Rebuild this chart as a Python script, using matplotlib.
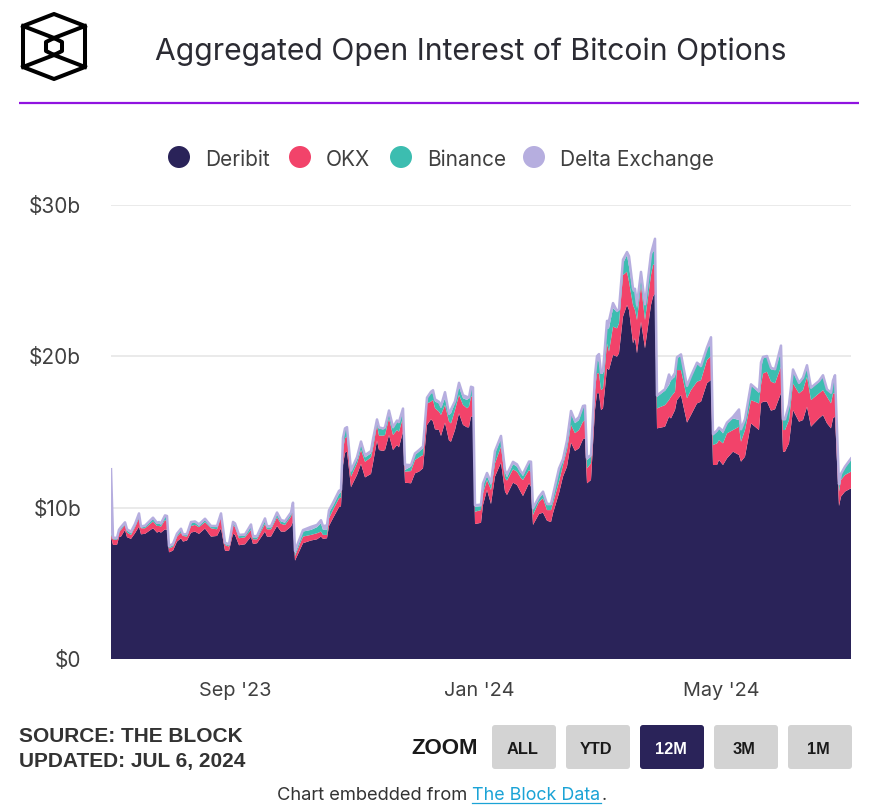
import pandas as pd
import matplotlib.pyplot as plt
from matplotlib.patches import Circle, FancyBboxPatch, Polygon

plt.rcParams['font.family'] = ['Inter', 'DejaVu Sans']

# days since 2023-07-01
days = [0, 1, 3, 4, 5, 7, 8, 10, 12, 14, 15, 17, 21, 23, 24, 25, 27, 28, 29, 31,
        33, 35, 36, 38, 40, 42, 44, 47, 50, 53, 55, 57, 59, 61, 62, 64, 67, 70, 71, 73,
        77, 78, 80, 83, 85, 87, 90, 91, 92, 96, 100, 103, 105, 106, 108, 109, 111, 114, 115, 116,
        117, 118, 120, 123, 125, 127, 130, 131, 133, 134, 136, 137, 139, 141, 143, 144, 146, 147, 150, 152,
        154, 156, 158, 160, 161, 162, 164, 165, 167, 169, 170, 172, 174, 176, 178, 179, 180, 181, 182, 185,
        186, 188, 190, 192, 195, 197, 198, 201, 203, 205, 206, 209, 210, 211, 214, 216, 218, 220, 221, 224,
        226, 228, 230, 232, 234, 236, 237, 238, 240, 242, 243, 244, 245, 246, 248, 249, 251, 253, 254, 256,
        258, 259, 261, 262, 263, 265, 267, 270, 271, 272, 273, 277, 279, 280, 282, 283, 285, 288, 290, 293,
        295, 298, 300, 301, 303, 304, 306, 308, 311, 314, 315, 317, 320, 324, 325, 326, 328, 330, 332, 335,
        336, 337, 339, 341, 344, 346, 348, 350, 354, 356, 358, 360, 361, 362, 364, 365, 367, 370]

deribit = [8.09, 7.54, 7.54, 8.05, 8.09, 8.53, 8.05, 7.94, 8.31, 8.75, 8.24, 8.27, 8.64, 8.35, 8.42, 8.35, 8.57, 8.53, 7.05, 7.16,
           7.76, 7.98, 7.76, 7.83, 8.35, 8.42, 8.27, 8.62, 8.09, 8.13, 8.64, 7.16, 7.14, 8.27, 8.20, 7.52, 7.58, 8.09, 7.60, 7.65,
           8.42, 8.09, 8.09, 8.79, 8.42, 8.42, 8.75, 9.08, 6.50, 7.65, 7.83, 7.91, 8.09, 7.94, 7.98, 8.79, 9.30, 10.03, 10.10, 12.82,
           13.64, 13.70, 11.35, 12.16, 12.89, 12.00, 12.23, 12.93, 14.43, 13.81, 13.75, 13.81, 14.80, 13.81, 14.14, 13.99, 15.02, 11.65, 11.61, 12.27,
           12.38, 12.60, 15.46, 15.84, 15.69, 15.18, 15.13, 14.74, 15.62, 14.43, 14.36, 15.13, 16.24, 15.47, 15.31, 15.31, 16.02, 16.02, 8.92, 9.00,
           10.18, 11.17, 10.24, 12.05, 12.98, 11.06, 10.84, 11.65, 11.50, 11.00, 10.77, 11.61, 11.39, 8.86, 9.58, 9.67, 9.14, 9.05, 9.63, 10.95,
           12.05, 12.71, 14.30, 13.75, 13.92, 14.52, 14.58, 11.61, 11.83, 16.45, 17.56, 17.56, 16.45, 16.56, 19.20, 19.10, 20.09, 19.98, 20.20, 22.62,
           23.39, 23.06, 20.86, 21.19, 20.20, 22.29, 20.53, 23.39, 23.94, 24.16, 15.24, 15.35, 16.01, 15.90, 16.45, 17.11, 17.44, 15.62, 16.12, 16.89,
           17.00, 18.22, 18.44, 12.82, 12.82, 13.15, 12.82, 13.26, 13.70, 13.48, 13.04, 13.37, 15.57, 15.13, 16.89, 17.00, 17.00, 16.41, 16.50, 17.56,
           13.70, 13.70, 14.25, 16.45, 15.68, 15.79, 16.67, 15.35, 15.90, 16.12, 15.57, 15.24, 15.90, 16.01, 10.11, 10.73, 11.06, 11.28]

okx = [.11, .37, .33, .31, .44, .33, .31, .26, .40, .55, .40, .37, .44, .44, .37, .40, .62, .55, .26, .26,
       .33, .37, .37, .26, .44, .44, .44, .42, .55, .44, .77, .37, .29, .59, .51, .46, .46, .44, .31, .26,
       .51, .48, .48, .57, .51, .44, .66, .77, .31, .44, .37, .40, .33, .26, .22, .51, .55, .59, .57, .99,
       .95, .99, .70, .77, .93, 1.03, 1.10, 1.00, 1.03, .95, 1.01, .99, 1.10, .99, .99, 1.03, .95, .73, .81, .88,
       .95, .88, 1.43, 1.17, 1.43, 1.39, 1.21, 1.39, 1.17, 1.26, 1.21, 1.32, 1.21, 1.32, 1.26, 1.37, 1.32, 1.32, .81, .84,
       .77, .66, .93, .88, 1.06, .88, .95, .88, .88, .95, 1.06, .88, .95, .66, .81, .95, .70, .79, .66, .77,
       .77, 1.10, 1.17, 1.17, 1.21, 1.17, 1.21, .99, 1.10, 1.32, 1.32, 1.32, 1.32, 1.32, 1.65, 1.21, 1.87, 1.87, 1.98, 2.75,
       2.20, 1.87, 2.53, 1.87, 2.20, 2.42, 1.87, 1.98, 2.09, 1.98, 1.32, 1.43, 1.10, 1.43, 1.21, 1.98, 1.65, 1.61, 1.65, 1.43,
       1.43, 1.54, 1.59, 1.32, 1.43, 1.32, 1.43, 1.65, 1.43, 1.87, 1.32, 1.76, 1.54, 1.76, 1.21, 1.87, 1.98, 1.92, 1.72, 1.76,
       1.43, 1.43, 1.54, 1.76, 1.87, 1.98, 1.98, 1.76, 1.65, 1.65, 1.76, 1.65, 1.65, 1.54, .95, 1.10, 1.10, 1.10]

binance = [.11, .05, .05, .10, .11, .07, .13, .11, .13, .22, .05, .11, .18, .13, .18, .13, .22, .22, .07, .11,
           .11, .18, .07, .13, .18, .15, .09, .15, .11, .18, .11, .07, .11, .11, .15, .15, .11, .26, .13, .13,
           .26, .13, .13, .22, .15, .15, .22, .33, .13, .33, .33, .40, .55, .33, .33, .37, .26, .29, .37, .55,
           .55, .55, .33, .26, .40, .29, .26, .44, .29, .48, .42, .44, .44, .44, .55, .55, .48, .11, .29, .33,
           .37, .44, .33, .55, .44, .44, .55, .44, .44, .44, .66, .48, .55, .44, .55, .55, .55, .55, .33, .26,
           .55, .26, .33, .66, .55, .44, .22, .35, .33, .33, .26, .48, .60, .37, .22, .29, .33, .33, .44, .77,
           .29, .55, .77, .66, .66, .95, .88, .55, .44, .66, .88, .77, 1.06, .99, .99, 1.54, 1.21, 1.10, .88, .77,
           1.10, .99, .88, 1.32, .77, .77, .99, 1.32, .88, .88, .77, .95, .99, 1.10, .99, .77, .99, .77, .88, 1.21,
           .84, .77, .73, .66, .77, .77, .66, .66, .77, .44, .77, .66, .99, .70, .99, .99, .99, .81, .88, .99,
           .66, .66, .88, .77, .62, .77, .66, .77, .77, .88, .44, .66, .77, 1.10, .44, .33, .50, .77]

delta = [4.23, .06, .08, .08, .08, .10, .08, .10, .08, .10, .07, .06, .08, .08, .08, .08, .08, .15, .08, .08,
         .08, .08, .03, .04, .08, .08, .10, .08, .04, .04, .10, .08, .04, .09, .10, .07, .08, .10, .08, .08,
         .10, .08, .08, .10, .10, .10, .05, .15, .20, .10, .20, .15, .20, .25, .30, .15, .20, .20, .15, .25,
         .10, .08, .08, .15, .15, .15, .15, .15, .08, .07, .05, .07, .08, .08, .08, .10, .10, .35, .10, .10,
         .10, .12, .05, .10, .20, .15, .10, .15, .40, .08, .25, .10, .25, .20, .20, .05, .10, .05, .10, .10,
         .10, .20, .15, .15, .15, .08, .20, .15, .15, .08, .15, .08, .10, .08, .10, .15, .08, .08, .10, .10,
         .10, .08, .15, .15, .20, .08, .08, .15, .10, .35, .25, .50, .08, .15, .50, .50, .35, .05, .05, .25,
         .20, .70, .20, .08, .25, .10, .05, .08, .35, .75, .08, .10, .70, .05, .25, .08, .05, .05, .05, .05,
         .10, .05, .50, .05, .08, .05, .15, .05, .10, .70, .05, .05, .05, .10, .50, .10, .05, .10, .05, .40,
         .05, .05, .15, .15, .08, .05, .10, .05, .05, .10, .05, .05, .08, .10, .05, .08, .05, .10]

series_names = ['Deribit', 'OKX', 'Binance', 'Delta Exchange']
series_colors = ['#2a2359', '#f2436a', '#3cbdb0', '#b6aedf']
legend_x = [179, 300, 401, 534]
y_ticks = [0, 10, 20, 30]
y_labels = ['$0', '$10b', '$20b', '$30b']
x_ticks = ['2023-09-01', '2024-01-01', '2024-05-01']
x_labels = ["Sep '23", "Jan '24", "May '24"]
buttons = ['ALL', 'YTD', '12M', '3M', '1M']
button_x = [492, 566, 640, 714, 788]

W, H = 873, 807
start = pd.Timestamp('2023-07-01')
dates = start + pd.to_timedelta(days, unit='D')
total = [a + b + c + d for a, b, c, d in zip(deribit, okx, binance, delta)]

fig = plt.figure(figsize=(W / 100, H / 100), dpi=100)

ax = fig.add_axes([111 / W, 1 - 659 / H, 740 / W, 454 / H])
ax.stackplot(dates, deribit, okx, binance, delta, colors=series_colors, linewidth=0, zorder=2)
ax.plot(dates, total, color=series_colors[3], lw=1.8, zorder=3, solid_joinstyle='round')
ax.set_xlim(start, start + pd.Timedelta(days=370))
ax.set_ylim(0, 30)
ax.set_yticks(y_ticks, y_labels)
ax.set_xticks(pd.to_datetime(x_ticks), x_labels)
ax.tick_params(axis='y', length=0, labelsize=15, labelcolor='#404040', pad=21.5)
ax.tick_params(axis='x', length=0, labelsize=14.3, labelcolor='#404040', pad=16.5)
ax.grid(axis='y', color='#e6e6e6', lw=1.2, zorder=0)
ax.set_axisbelow(True)
for s in ax.spines.values():
    s.set_visible(False)

# everything outside the plot is placed in pixel coordinates
ov = fig.add_axes([0, 0, 1, 1], zorder=5)
ov.set_xlim(0, W)
ov.set_ylim(H, 0)
ov.axis('off')

# logo
outer = [(54, 14), (85, 26), (85, 67), (54, 79), (23, 67), (23, 26)]
inner = [(54, 38), (62, 42), (62, 51), (54, 55), (46, 51), (46, 42)]
ov.add_patch(Polygon(outer, fill=False, ec='black', lw=2.9, joinstyle='round'))
ov.add_patch(Polygon(inner, fill=False, ec='black', lw=2.9, joinstyle='round'))
for i, j in [(5, 0), (1, 0), (4, 3), (2, 3)]:
    ov.plot([outer[i][0], inner[j][0]], [outer[i][1], inner[j][1]], color='black', lw=2.9)

ov.text(471, 51.5, 'Aggregated Open Interest of Bitcoin Options', ha='center', va='center',
        fontsize=21.7, color='#2b2b33')
ov.plot([19, 859], [103, 103], color='#9013e0', lw=1.6, solid_capstyle='butt')

for x, name, color in zip(legend_x, series_names, series_colors):
    ov.add_patch(Circle((x, 157), 11, color=color, lw=0))
    ov.text(x + 26, 160, name, ha='left', va='center', fontsize=15, color='#404040')

ov.text(19, 737, 'SOURCE: THE BLOCK', family='Liberation Sans', weight='bold', fontsize=15,
        color='#333333', va='center')
ov.text(19, 761, 'UPDATED: JUL 6, 2024', family='Liberation Sans', weight='bold', fontsize=15,
        color='#333333', va='center')
ov.text(411, 748, 'ZOOM', family='Liberation Sans', weight='bold', fontsize=16, color='#1a1a1a', va='center')

for x, label in zip(button_x, buttons):
    active = label == '12M'
    ov.add_patch(FancyBboxPatch((x + 3, 728), 58, 38, boxstyle='round,pad=3', lw=0,
                                fc='#2a2359' if active else '#d3d3d3'))
    ov.text(x + 30.5, 749, label, family='Liberation Sans', weight='bold', fontsize=11.8, ha='center',
            va='center', color='white' if active else '#1a1a1a')

ov.text(277, 795, 'Chart embedded from', fontsize=13.2, color='#333333', va='center')
ov.text(472, 795, 'The Block Data', fontsize=12.9, color='#1ba3d6', va='center')
ov.plot([472, 601], [803, 803], color='#1ba3d6', lw=0.9)
ov.text(602, 795, '.', fontsize=13, color='#333333', va='center')

fig.savefig('out.png', dpi=100)
